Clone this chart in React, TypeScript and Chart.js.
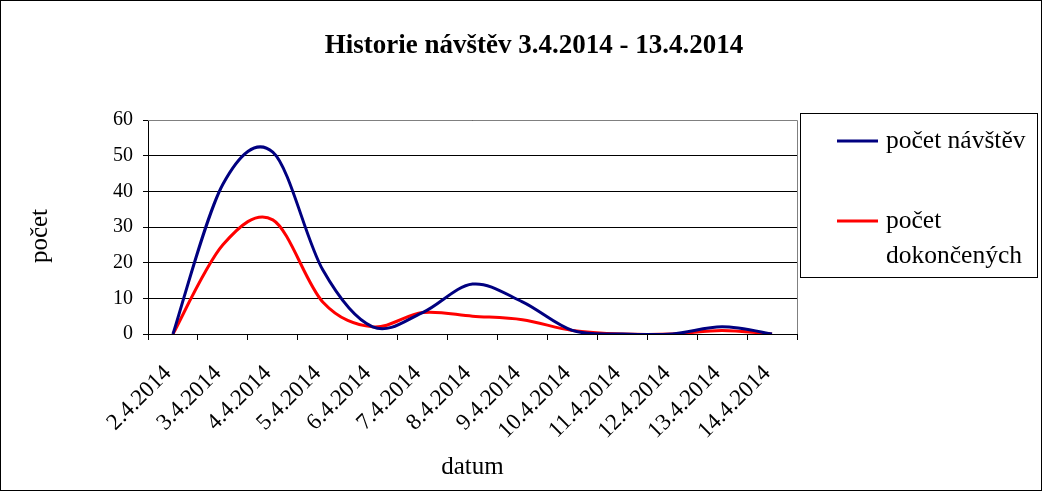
import React, { useEffect, useRef } from "react";
import { Chart, registerables } from "chart.js";

Chart.register(...registerables);

const TITLE = "Historie návštěv 3.4.2014 - 13.4.2014";
const X_TITLE = "datum";
const Y_TITLE = "počet";

const categories = [
  "2.4.2014", "3.4.2014", "4.4.2014", "5.4.2014", "6.4.2014", "7.4.2014", "8.4.2014",
  "9.4.2014", "10.4.2014", "11.4.2014", "12.4.2014", "13.4.2014", "14.4.2014",
];
const visits = [0, 42, 51, 18, 2, 6, 14, 9, 1, 0, 0, 2, 0];
const completed = [0, 25, 32, 9, 2, 6, 5, 4, 1, 0, 0, 1, 0];
const seriesNames = ["počet návštěv", "počet dokončených"];
const seriesColors = ["#000080", "#FF0000"];

const FONT = "'Liberation Serif', 'Times New Roman', serif";

const decorPlugin = {
  id: "decor",
  beforeDatasetsDraw(chart: any) {
    const { ctx, chartArea } = chart;
    // Excel-like smoothing (Catmull-Rom control points)
    chart.data.datasets.forEach((_: any, di: number) => {
      const meta = chart.getDatasetMeta(di);
      if (!meta.dataset) return;
      meta.dataset.updateControlPoints(chartArea, meta.indexAxis);
      const pts = meta.data;
      const n = pts.length;
      for (let i = 0; i < n; i++) {
        const p = pts[i];
        const prev = pts[Math.max(i - 1, 0)];
        const next = pts[Math.min(i + 1, n - 1)];
        const dx = (next.x - prev.x) / 6;
        const dy = (next.y - prev.y) / 6;
        p.cp1x = p.x - dx;
        p.cp1y = p.y - dy;
        p.cp2x = p.x + dx;
        p.cp2y = p.y + dy;
      }
      meta.dataset._path = undefined;
    });
    ctx.save();
    ctx.strokeStyle = "#808080";
    ctx.lineWidth = 1;
    ctx.beginPath();
    ctx.moveTo(chartArea.left, Math.round(chartArea.top) + 0.5);
    ctx.lineTo(Math.round(chartArea.right) + 0.5, Math.round(chartArea.top) + 0.5);
    ctx.lineTo(Math.round(chartArea.right) + 0.5, chartArea.bottom);
    ctx.stroke();
    ctx.restore();
  },
  afterDraw(chart: any) {
    const { ctx, width, height } = chart;
    ctx.save();
    // outer frame
    ctx.strokeStyle = "#000";
    ctx.lineWidth = 1;
    ctx.strokeRect(0.5, 0.5, width - 2, height - 2);
    // title
    ctx.fillStyle = "#000";
    ctx.font = `bold 27px ${FONT}`;
    ctx.textAlign = "center";
    ctx.textBaseline = "middle";
    ctx.fillText(TITLE, 534, 46);
    // y axis title
    ctx.save();
    ctx.translate(40, 236);
    ctx.rotate(-Math.PI / 2);
    ctx.font = `25px ${FONT}`;
    ctx.fillText(Y_TITLE, 0, 0);
    ctx.restore();
    // legend box
    ctx.strokeStyle = "#000";
    ctx.strokeRect(800.5, 113.5, 237, 164);
    ctx.font = `25.5px ${FONT}`;
    ctx.textAlign = "left";
    const rowY = [141, 221];
    const maxW = 150;
    chart.data.datasets.forEach((ds: any, i: number) => {
      const y = rowY[i];
      ctx.strokeStyle = ds.borderColor;
      ctx.lineWidth = 3;
      ctx.beginPath();
      ctx.moveTo(837, y);
      ctx.lineTo(878, y);
      ctx.stroke();
      const words = String(ds.label).split(" ");
      const lines: string[] = [];
      let cur = "";
      for (const w of words) {
        const t = cur ? cur + " " + w : w;
        if (cur && ctx.measureText(t).width > maxW) {
          lines.push(cur);
          cur = w;
        } else cur = t;
      }
      if (cur) lines.push(cur);
      lines.forEach((ln, k) => ctx.fillText(ln, 886, y + k * 35));
    });
    ctx.restore();
  },
};

export default function App() {
  const ref = useRef<HTMLCanvasElement>(null);
  useEffect(() => {
    document.body.style.margin = "0";
    const chart = new Chart(ref.current!, {
      type: "line",
      data: {
        labels: categories,
        datasets: [
          {
            label: seriesNames[0],
            data: visits,
            borderColor: seriesColors[0],
            backgroundColor: seriesColors[0],
            borderWidth: 3,
            pointRadius: 0,
            tension: 0.4,
          },
          {
            label: seriesNames[1],
            data: completed,
            borderColor: seriesColors[1],
            backgroundColor: seriesColors[1],
            borderWidth: 3,
            pointRadius: 0,
            tension: 0.4,
          },
        ],
      },
      options: {
        responsive: false,
        animation: false,
        layout: { padding: { top: 120, right: 246, bottom: 0, left: 0 } },
        plugins: {
          legend: { display: false },
          title: { display: false },
          tooltip: { enabled: false },
        },
        scales: {
          x: {
            type: "category",
            offset: true,
            afterFit: (s: any) => {
              s.height = 158;
            },
            grid: {
              offset: true,
              drawOnChartArea: false,
              drawTicks: true,
              tickLength: 6,
              color: "#000",
            },
            border: { display: true, color: "#000", width: 1 },
            ticks: {
              color: "#000",
              font: { family: FONT, size: 23 },
              minRotation: 45,
              maxRotation: 45,
              autoSkip: false,
              padding: 20,
              labelOffset: -5,
            },
            title: {
              display: true,
              text: X_TITLE,
              color: "#000",
              font: { family: FONT, size: 25 },
              padding: { top: 0, bottom: 10 },
            },
          },
          y: {
            min: 0,
            max: 60,
            afterFit: (s: any) => {
              s.width = 148;
            },
            grid: {
              color: "#000",
              drawTicks: true,
              tickLength: 5,
            },
            border: { display: true, color: "#000", width: 1 },
            ticks: {
              stepSize: 10,
              color: "#000",
              font: { family: FONT, size: 20 },
              padding: 10,
            },
            title: { display: false, text: Y_TITLE },
          },
        },
      },
      plugins: [decorPlugin],
    });
    return () => chart.destroy();
  }, []);
  return (
    <div style={{ width: 1043, height: 492, background: "#fff" }}>
      <canvas ref={ref} width={1043} height={492} />
    </div>
  );
}
